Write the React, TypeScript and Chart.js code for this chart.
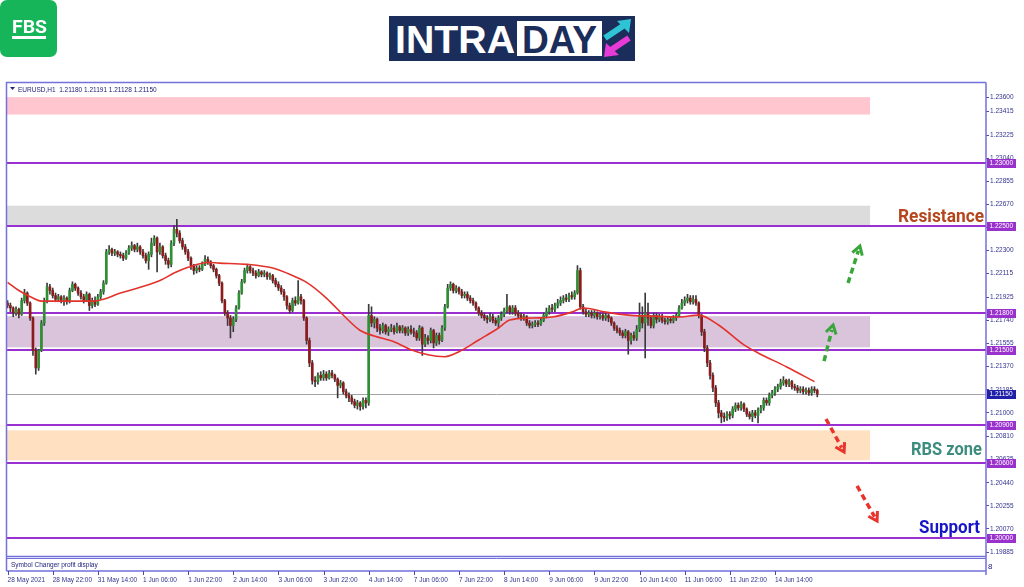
import React, { useEffect, useRef } from "react";
import { Chart, registerables } from "chart.js";

Chart.register(...registerables);

// ---------------- DATA ----------------
const firstOpen = 1.2188;
const closes = [
  1.2186,1.2184,1.2180,1.2183,1.2179,1.2190,1.2196,1.2188,1.2176,1.2150,1.2136,1.2150,1.2172,1.2190,1.2201,1.2198,
  1.2194,1.2191,1.2193,1.2190,1.2192,1.2189,1.2198,1.2203,1.2200,1.2196,1.2193,1.2190,1.2195,1.2186,1.2190,1.2187,
  1.2193,1.2197,1.2204,1.2229,1.2231,1.2228,1.2229,1.2227,1.2226,1.2224,1.2228,1.2232,1.2234,1.2231,1.2233,1.2229,
  1.2226,1.2222,1.2227,1.2236,1.2240,1.2229,1.2233,1.2226,1.2222,1.2219,1.2236,1.2247,1.2244,1.2238,1.2233,1.2229,
  1.2224,1.2218,1.2214,1.2216,1.2215,1.2219,1.2223,1.2221,1.2218,1.2215,1.2210,1.2204,1.2190,1.2180,1.2176,1.2170,
  1.2175,1.2184,1.2196,1.2205,1.2214,1.2217,1.2214,1.2212,1.2210,1.2213,1.2211,1.2212,1.2209,1.2210,1.2206,1.2203,
  1.2200,1.2197,1.2193,1.2186,1.2182,1.2190,1.2188,1.2193,1.2190,1.2176,1.2158,1.2140,1.2126,1.2125,1.2130,1.2128,
  1.2131,1.2128,1.2132,1.2130,1.2127,1.2122,1.2124,1.2117,1.2114,1.2112,1.2109,1.2106,1.2108,1.2105,1.2110,1.2108,
  1.2178,1.2172,1.2175,1.2168,1.2166,1.2170,1.2165,1.2167,1.2168,1.2165,1.2169,1.2166,1.2168,1.2164,1.2167,1.2165,
  1.2164,1.2160,1.2168,1.2155,1.2160,1.2158,1.2166,1.2156,1.2162,1.2158,1.2168,1.2185,1.2200,1.2203,1.2198,1.2200,
  1.2197,1.2194,1.2195,1.2192,1.2190,1.2188,1.2184,1.2180,1.2178,1.2176,1.2175,1.2177,1.2174,1.2172,1.2176,1.2179,
  1.2182,1.2185,1.2181,1.2184,1.2180,1.2178,1.2176,1.2177,1.2172,1.2170,1.2171,1.2172,1.2171,1.2174,1.2178,1.2181,
  1.2184,1.2183,1.2186,1.2188,1.2190,1.2192,1.2191,1.2194,1.2193,1.2196,1.2214,1.2185,1.2181,1.2179,1.2180,1.2178,
  1.2180,1.2177,1.2178,1.2176,1.2178,1.2176,1.2172,1.2168,1.2166,1.2164,1.2162,1.2165,1.2158,1.2162,1.2160,1.2167,
  1.2178,1.2172,1.2180,1.2176,1.2170,1.2178,1.2175,1.2177,1.2174,1.2173,1.2175,1.2174,1.2176,1.2178,1.2184,1.2188,
  1.2190,1.2192,1.2189,1.2191,1.2188,1.2178,1.2165,1.2152,1.2140,1.2130,1.2120,1.2108,1.2100,1.2097,1.2096,1.2099,
  1.2098,1.2103,1.2106,1.2104,1.2107,1.2103,1.2099,1.2097,1.2100,1.2098,1.2102,1.2104,1.2110,1.2108,1.2114,1.2116,
  1.2119,1.2121,1.2124,1.2126,1.2123,1.2125,1.2121,1.2120,1.2118,1.2119,1.2117,1.2118,1.2116,1.2119,1.2118,1.2115,
];
const highs = [
  1.2190,1.2188,1.2185,1.2185,1.2184,1.2192,1.2199,1.2197,1.2189,1.2177,1.2152,1.2151,1.2174,1.2192,1.2204,1.2203,
  1.2200,1.2196,1.2195,1.2194,1.2194,1.2193,1.2200,1.2205,1.2204,1.2201,1.2198,1.2195,1.2197,1.2196,1.2192,1.2193,
  1.2195,1.2199,1.2206,1.2231,1.2234,1.2232,1.2231,1.2230,1.2229,1.2228,1.2230,1.2234,1.2237,1.2235,1.2236,1.2234,
  1.2231,1.2228,1.2229,1.2240,1.2242,1.2241,1.2236,1.2234,1.2228,1.2224,1.2238,1.2250,1.2255,1.2246,1.2240,1.2235,
  1.2231,1.2225,1.2219,1.2218,1.2218,1.2221,1.2226,1.2225,1.2222,1.2219,1.2216,1.2211,1.2205,1.2191,1.2182,1.2178,
  1.2177,1.2186,1.2198,1.2207,1.2216,1.2219,1.2218,1.2216,1.2214,1.2215,1.2214,1.2214,1.2213,1.2212,1.2211,1.2208,
  1.2205,1.2202,1.2199,1.2194,1.2188,1.2192,1.2193,1.2206,1.2195,1.2191,1.2177,1.2160,1.2142,1.2129,1.2132,1.2133,
  1.2134,1.2133,1.2134,1.2134,1.2131,1.2128,1.2126,1.2125,1.2119,1.2116,1.2114,1.2111,1.2110,1.2109,1.2112,1.2112,
  1.2187,1.2185,1.2177,1.2176,1.2171,1.2172,1.2171,1.2169,1.2171,1.2170,1.2172,1.2170,1.2170,1.2169,1.2169,1.2170,
  1.2168,1.2166,1.2170,1.2169,1.2163,1.2162,1.2168,1.2167,1.2164,1.2164,1.2170,1.2187,1.2203,1.2205,1.2204,1.2202,
  1.2201,1.2199,1.2197,1.2197,1.2194,1.2192,1.2189,1.2185,1.2182,1.2180,1.2178,1.2180,1.2179,1.2176,1.2178,1.2181,
  1.2184,1.2195,1.2186,1.2186,1.2186,1.2182,1.2180,1.2179,1.2178,1.2174,1.2173,1.2174,1.2174,1.2176,1.2180,1.2184,
  1.2186,1.2187,1.2188,1.2191,1.2193,1.2194,1.2195,1.2196,1.2197,1.2198,1.2218,1.2216,1.2187,1.2183,1.2182,1.2182,
  1.2182,1.2181,1.2180,1.2180,1.2180,1.2179,1.2177,1.2173,1.2170,1.2168,1.2166,1.2167,1.2166,1.2164,1.2165,1.2170,
  1.2188,1.2185,1.2196,1.2188,1.2178,1.2180,1.2180,1.2179,1.2179,1.2176,1.2177,1.2177,1.2178,1.2180,1.2186,1.2191,
  1.2193,1.2195,1.2194,1.2194,1.2194,1.2189,1.2179,1.2167,1.2154,1.2142,1.2132,1.2122,1.2110,1.2102,1.2100,1.2101,
  1.2101,1.2105,1.2108,1.2108,1.2109,1.2108,1.2104,1.2101,1.2102,1.2102,1.2104,1.2106,1.2112,1.2112,1.2116,1.2118,
  1.2121,1.2123,1.2127,1.2129,1.2127,1.2127,1.2126,1.2123,1.2122,1.2121,1.2121,1.2120,1.2120,1.2121,1.2121,1.21191,
];
const lows = [
  1.2184,1.2181,1.2177,1.2178,1.2176,1.2178,1.2188,1.2186,1.2174,1.2146,1.2131,1.2134,1.2149,1.2170,1.2188,1.2195,
  1.2192,1.2189,1.2189,1.2188,1.2186,1.2187,1.2188,1.2197,1.2198,1.2194,1.2191,1.2188,1.2189,1.2182,1.2184,1.2185,
  1.2186,1.2191,1.2195,1.2203,1.2227,1.2226,1.2226,1.2225,1.2224,1.2222,1.2223,1.2227,1.2230,1.2229,1.2229,1.2227,
  1.2224,1.2220,1.2215,1.2225,1.2234,1.2213,1.2227,1.2224,1.2219,1.2216,1.2217,1.2234,1.2241,1.2236,1.2231,1.2227,
  1.2222,1.2215,1.2211,1.2212,1.2213,1.2214,1.2218,1.2219,1.2216,1.2213,1.2208,1.2202,1.2188,1.2178,1.2170,1.2160,
  1.2165,1.2173,1.2183,1.2195,1.2204,1.2212,1.2212,1.2210,1.2208,1.2209,1.2209,1.2209,1.2207,1.2207,1.2204,1.2201,
  1.2198,1.2195,1.2190,1.2183,1.2180,1.2181,1.2186,1.2187,1.2187,1.2174,1.2155,1.2137,1.2123,1.2121,1.2123,1.2126,
  1.2126,1.2126,1.2127,1.2128,1.2125,1.2112,1.2120,1.2115,1.2112,1.2109,1.2107,1.2104,1.2103,1.2102,1.2103,1.2104,
  1.2106,1.2169,1.2168,1.2165,1.2163,1.2164,1.2163,1.2162,1.2165,1.2163,1.2164,1.2164,1.2164,1.2162,1.2162,1.2163,
  1.2161,1.2158,1.2158,1.2146,1.2153,1.2155,1.2156,1.2152,1.2154,1.2155,1.2157,1.2166,1.2184,1.2198,1.2196,1.2196,
  1.2195,1.2192,1.2192,1.2190,1.2188,1.2186,1.2182,1.2178,1.2176,1.2174,1.2172,1.2173,1.2172,1.2170,1.2168,1.2174,
  1.2177,1.2180,1.2179,1.2179,1.2178,1.2176,1.2174,1.2174,1.2170,1.2168,1.2168,1.2169,1.2169,1.2170,1.2173,1.2176,
  1.2179,1.2181,1.2181,1.2184,1.2186,1.2188,1.2189,1.2189,1.2191,1.2191,1.2195,1.2183,1.2179,1.2177,1.2177,1.2176,
  1.2176,1.2175,1.2175,1.2174,1.2174,1.2173,1.2170,1.2166,1.2164,1.2162,1.2160,1.2160,1.2147,1.2155,1.2158,1.2158,
  1.2165,1.2168,1.2144,1.2170,1.2168,1.2168,1.2172,1.2173,1.2172,1.2171,1.2171,1.2172,1.2172,1.2174,1.2177,1.2183,
  1.2186,1.2188,1.2187,1.2187,1.2186,1.2176,1.2162,1.2149,1.2137,1.2127,1.2117,1.2105,1.2096,1.2092,1.2093,1.2094,
  1.2095,1.2096,1.2101,1.2102,1.2102,1.2101,1.2097,1.2095,1.2093,1.2096,1.2092,1.2100,1.2102,1.2106,1.2106,1.2112,
  1.2114,1.2117,1.2119,1.2122,1.2121,1.2121,1.2119,1.2118,1.2116,1.2116,1.2115,1.2115,1.2114,1.2114,1.2116,1.21128,
];
const opens = closes.map((c, i) => (i === 0 ? firstOpen : closes[i - 1]));

// moving average
const maBars = [0,4,9,12,21,30,34,40,47,54,59,64,71,75,85,94,101,106,113,120,125,130,137,143,149,155,160,167,174,178,186,193,200,204,212,220,228,238,245,252,261,266,276,286];
const maValues = [1.22046,1.2198,1.2192,1.21895,1.21895,1.21895,1.2191,1.2196,1.22006,1.2206,1.2212,1.22166,1.22205,1.2220,1.2219,1.2216,1.2210,1.22046,1.2192,1.2176,1.2166,1.21616,1.2157,1.21505,1.21465,1.2145,1.2149,1.21584,1.2168,1.21744,1.2176,1.21768,1.21807,1.2184,1.21807,1.21783,1.21775,1.21768,1.21783,1.21704,1.21545,1.2148,1.2137,1.2125];

const xTickBars = [0,16,32,48,64,80,96,112,128,144,160,176,192,208,224,240,256,272];
const xTickLabels = ["28 May 2021","28 May 22:00","31 May 14:00","1 Jun 06:00","1 Jun 22:00","2 Jun 14:00","3 Jun 06:00","3 Jun 22:00","4 Jun 14:00","7 Jun 06:00","7 Jun 22:00","8 Jun 14:00","9 Jun 06:00","9 Jun 22:00","10 Jun 14:00","11 Jun 06:00","11 Jun 22:00","14 Jun 14:00"];
const yTickValues = [1.2353,1.23415,1.23225,1.2304,1.22855,1.2267,1.22485,1.223,1.22115,1.21925,1.2174,1.21555,1.2137,1.21185,1.21,1.2081,1.20625,1.2044,1.20255,1.2007,1.19885];
const yTickLabels = ["1.23600","1.23415","1.23225","1.23040","1.22855","1.22670","1.22485","1.22300","1.22115","1.21925","1.21740","1.21555","1.21370","1.21185","1.21000","1.20810","1.20625","1.20440","1.20255","1.20070","1.19885"];
const levelValues = [1.23, 1.225, 1.218, 1.215, 1.209, 1.206, 1.2];
const levelLabels = ["1.23000","1.22500","1.21800","1.21500","1.20900","1.20600","1.20000"];
const lastPrice = 1.2115;
const lastPriceLabel = "1.21150";
const zoneHigh = [1.2353, 1.2266, 1.21775, 1.2086];
const zoneLow = [1.2339, 1.225, 1.21525, 1.2062];
const zoneEndBar = 305.7;
const noteTexts = ["Resistance", "RBS zone", "Support"];
const notePrices = [1.2253, 1.20663, 1.20038];
const arrowFromBar = [297.9, 289.4, 290.1, 301.1];
const arrowFromPrice = [1.2204, 1.21415, 1.20951, 1.20414];
const arrowToBar = [302.1, 292.6, 296.5, 308.2];
const arrowToPrice = [1.22337, 1.21704, 1.20686, 1.20133];
const yMin = 1.19853;
const yMax = 1.23643;
const xMin = -0.2;
const xMax = 346.8;

// ---------------- STYLE ----------------
const AXIS_FONT = "'Liberation Sans', Arial, sans-serif";
const AXIS_COLOR = "#33338f";
const FRAME = "#7470dc";
const LEVEL = "#9a30d0";
const BULL = "#2f8f35";
const BEAR = "#8c1c1c";
const WICK = "#3a3a3a";
const zoneColors = ["#ffc6d0", "#dcdcdc", "#dac4dc", "#ffe1c2"];
const noteColors = ["#b5451c", "#3d8d7e", "#1616c8"];
const noteWidths = [86, 71, 61];
const noteRightInset = [2, 4, 6];
const arrowColors = ["#3aa53a", "#3aa53a", "#e8342c", "#e8342c"];

function drawArrow(ctx: CanvasRenderingContext2D, x0: number, y0: number, x1: number, y1: number, color: string) {
  const ang = Math.atan2(y1 - y0, x1 - x0);
  ctx.save();
  ctx.strokeStyle = color;
  ctx.lineWidth = 3.5;
  ctx.setLineDash([6, 4]);
  ctx.beginPath();
  ctx.moveTo(x0, y0);
  ctx.lineTo(x1 - Math.cos(ang) * 5, y1 - Math.sin(ang) * 5);
  ctx.stroke();
  ctx.setLineDash([]);
  ctx.lineWidth = 3;
  const h = 10;
  ctx.beginPath();
  ctx.moveTo(x1 - h * Math.cos(ang - 0.55), y1 - h * Math.sin(ang - 0.55));
  ctx.lineTo(x1, y1);
  ctx.lineTo(x1 - h * Math.cos(ang + 0.55), y1 - h * Math.sin(ang + 0.55));
  ctx.stroke();
  ctx.restore();
}

const mtPlugin = {
  id: "mt4",
  beforeDatasetsDraw(chart: any) {
    const { ctx, chartArea: ca, scales } = chart;
    const xs = scales.x;
    const ys = scales.y;
    ctx.save();
    ctx.beginPath();
    ctx.rect(ca.left, ca.top, ca.right - ca.left, ca.bottom - ca.top);
    ctx.clip();
    const xr = xs.getPixelForValue(zoneEndBar);
    zoneHigh.forEach((hv, i) => {
      const y1 = ys.getPixelForValue(hv);
      const y2 = ys.getPixelForValue(zoneLow[i]);
      ctx.fillStyle = zoneColors[i];
      ctx.fillRect(ca.left, y1, xr - ca.left, y2 - y1);
    });
    const yp = Math.round(ys.getPixelForValue(lastPrice)) + 0.5;
    ctx.strokeStyle = "#a4a4a4";
    ctx.lineWidth = 1;
    ctx.beginPath();
    ctx.moveTo(ca.left, yp);
    ctx.lineTo(ca.right, yp);
    ctx.stroke();
    ctx.strokeStyle = LEVEL;
    ctx.lineWidth = 2;
    levelValues.forEach((v) => {
      const y = Math.round(ys.getPixelForValue(v));
      ctx.beginPath();
      ctx.moveTo(ca.left, y);
      ctx.lineTo(ca.right, y);
      ctx.stroke();
    });
    ctx.restore();
  },
  afterDraw(chart: any) {
    const { ctx, chartArea: ca, scales } = chart;
    const xs = scales.x;
    const ys = scales.y;
    ctx.save();
    // frames
    ctx.strokeStyle = FRAME;
    ctx.lineWidth = 1.5;
    ctx.beginPath();
    ctx.moveTo(ca.left - 0.5, ca.bottom + 15);
    ctx.lineTo(ca.left - 0.5, ca.top - 0.5);
    ctx.lineTo(ca.right, ca.top - 0.5);
    ctx.moveTo(ca.right, ca.top - 0.5);
    ctx.lineTo(ca.right, ca.bottom + 19);
    ctx.moveTo(ca.left - 0.5, ca.bottom + 0.5);
    ctx.lineTo(ca.right, ca.bottom + 0.5);
    ctx.moveTo(ca.left - 0.5, ca.bottom + 15);
    ctx.lineTo(ca.right, ca.bottom + 15);
    ctx.stroke();
    ctx.lineWidth = 1;
    ctx.beginPath();
    ctx.moveTo(ca.left, ca.bottom + 2.5);
    ctx.lineTo(ca.right, ca.bottom + 2.5);
    ctx.stroke();

    // header
    ctx.fillStyle = "#22227a";
    ctx.beginPath();
    ctx.moveTo(ca.left + 3, ca.top + 4);
    ctx.lineTo(ca.left + 8, ca.top + 4);
    ctx.lineTo(ca.left + 5.5, ca.top + 7);
    ctx.closePath();
    ctx.fill();
    ctx.font = `6.5px ${AXIS_FONT}`;
    ctx.textAlign = "left";
    ctx.textBaseline = "alphabetic";
    const n = closes.length - 1;
    const hdr = `EURUSD,H1  ${opens[n].toFixed(5)} ${highs[n].toFixed(5)} ${lows[n].toFixed(5)} ${closes[n].toFixed(5)}`;
    ctx.fillText(hdr, ca.left + 11, ca.top + 9);
    ctx.fillText("Symbol Changer profit display", ca.left + 4, ca.bottom + 11);
    ctx.font = `8px ${AXIS_FONT}`;
    ctx.fillText("8", ca.right + 2, ca.bottom + 13);

    // x tick marks
    ctx.strokeStyle = "#4a4aa8";
    ctx.lineWidth = 1;
    xTickBars.forEach((b) => {
      const x = Math.round(xs.getPixelForValue(b)) + 0.5;
      ctx.beginPath();
      ctx.moveTo(x, ca.bottom + 15);
      ctx.lineTo(x, ca.bottom + 19);
      ctx.stroke();
    });

    // axis highlight boxes
    const box = (v: number, text: string, color: string) => {
      const y = Math.round(ys.getPixelForValue(v));
      ctx.fillStyle = color;
      ctx.fillRect(ca.right + 1, y - 4, 29, 9);
      ctx.fillStyle = "#ffffff";
      ctx.font = `6.5px ${AXIS_FONT}`;
      ctx.textAlign = "left";
      ctx.textBaseline = "middle";
      ctx.fillText(text, ca.right + 3.5, y + 0.5);
    };
    levelValues.forEach((v, i) => box(v, levelLabels[i], "#9932cc"));
    box(lastPrice, lastPriceLabel, "#2020a8");

    // notes
    noteTexts.forEach((t, i) => {
      ctx.font = "bold 18px Roboto, 'Open Sans', sans-serif";
      const w = ctx.measureText(t).width;
      const sx = noteWidths[i] / w;
      ctx.save();
      ctx.translate(ca.right - noteRightInset[i], ys.getPixelForValue(notePrices[i]));
      ctx.scale(sx, 1);
      ctx.fillStyle = noteColors[i];
      ctx.textAlign = "right";
      ctx.textBaseline = "alphabetic";
      ctx.fillText(t, 0, 0);
      ctx.restore();
    });

    // arrows
    arrowFromBar.forEach((b, i) => {
      drawArrow(
        ctx,
        xs.getPixelForValue(b),
        ys.getPixelForValue(arrowFromPrice[i]),
        xs.getPixelForValue(arrowToBar[i]),
        ys.getPixelForValue(arrowToPrice[i]),
        arrowColors[i]
      );
    });
    ctx.restore();
  },
};

function MTChart() {
  const ref = useRef<HTMLCanvasElement | null>(null);
  useEffect(() => {
    if (!ref.current) return;
    const chart = new Chart(ref.current, {
      type: "bar",
      data: {
        datasets: [
          {
            type: "line",
            label: "MA",
            data: maBars.map((b, i) => ({ x: b, y: maValues[i] })),
            borderColor: "#e3322b",
            borderWidth: 1.6,
            pointRadius: 0,
            cubicInterpolationMode: "monotone",
            order: 0,
          } as any,
          {
            label: "bodies",
            data: opens.map((o, i) => ({ x: i, y: [o, closes[i]] })),
            backgroundColor: closes.map((c, i) => (c >= opens[i] ? BULL : BEAR)),
            borderWidth: 0,
            barThickness: 2,
            grouped: false,
            minBarLength: 1,
            order: 1,
          } as any,
          {
            label: "wicks",
            data: lows.map((l, i) => ({ x: i, y: [l, highs[i]] })),
            backgroundColor: WICK,
            borderWidth: 0,
            barThickness: 1,
            grouped: false,
            order: 2,
          } as any,
        ],
      },
      options: {
        responsive: false,
        animation: false,
        events: [],
        layout: { padding: { left: 7, top: 83, right: 0, bottom: 0 } },
        plugins: { legend: { display: false }, tooltip: { enabled: false } },
        scales: {
          x: {
            type: "linear",
            min: xMin,
            max: xMax,
            offset: false,
            grid: { display: false, drawTicks: true, tickLength: 20, offset: false },
            border: { display: false },
            afterBuildTicks: (s: any) => {
              s.ticks = xTickBars.map((v) => ({ value: v }));
            },
            afterFit: (s: any) => {
              s.height = 31;
              s.paddingLeft = 0;
              s.paddingRight = 0;
            },
            ticks: {
              autoSkip: false,
              maxRotation: 0,
              minRotation: 0,
              align: "start",
              padding: 0,
              color: AXIS_COLOR,
              font: { family: AXIS_FONT, size: 6.5 },
              callback: (_v: any, i: number) => xTickLabels[i],
            },
          },
          y: {
            type: "linear",
            position: "right",
            min: yMin,
            max: yMax,
            bounds: "data",
            beginAtZero: false,
            grid: { drawOnChartArea: false, drawTicks: true, tickLength: 3, color: "#4a4aa8" },
            border: { display: false },
            afterBuildTicks: (s: any) => {
              s.ticks = yTickValues.map((v) => ({ value: v }));
            },
            afterFit: (s: any) => {
              s.width = 38;
              s.paddingTop = 0;
              s.paddingBottom = 0;
            },
            ticks: {
              autoSkip: false,
              padding: 1,
              color: AXIS_COLOR,
              font: { family: AXIS_FONT, size: 6.5 },
              callback: (_v: any, i: number) => yTickLabels[i],
            },
          },
        },
      } as any,
      plugins: [mtPlugin as any],
    });
    return () => chart.destroy();
  }, []);
  return <canvas ref={ref} width={1024} height={587} style={{ position: "absolute", left: 0, top: 0 }} />;
}

export default function App() {
  return (
    <div style={{ position: "absolute", left: 0, top: 0, width: 1024, height: 587, background: "#ffffff", overflow: "hidden" }}>
      <MTChart />
      <svg style={{ position: "absolute", left: 0, top: 0 }} width={58} height={58}>
        <rect x={0} y={0} width={57} height={57} rx={7} fill="#17b55a" />
        <text x={12} y={33} fill="#ffffff" fontFamily="Roboto, 'Liberation Sans', sans-serif" fontWeight={700} fontSize={19} textLength={35} lengthAdjust="spacingAndGlyphs">FBS</text>
        <rect x={12} y={36} width={34} height={3} fill="#ffffff" />
      </svg>
      <svg style={{ position: "absolute", left: 389, top: 16 }} width={246} height={45}>
        <rect x={0} y={0} width={246} height={45} fill="#1b2d5a" />
        <text x={6} y={37} fill="#ffffff" fontFamily="'Liberation Sans', Arial, sans-serif" fontWeight={700} fontSize={39} textLength={120} lengthAdjust="spacingAndGlyphs">INTRA</text>
        <rect x={128} y={5} width={85} height={35} fill="#ffffff" />
        <text x={133} y={37} fill="#1b2d5a" fontFamily="'Liberation Sans', Arial, sans-serif" fontWeight={700} fontSize={39} textLength={75} lengthAdjust="spacingAndGlyphs">DAY</text>
        <line x1={240} y1={22} x2={222} y2={34} stroke="#e83ad6" strokeWidth={6} />
        <polygon points="215,41 217,27 230,39" fill="#e83ad6" />
        <line x1={216} y1={22} x2={234} y2={10} stroke="#2ec3d5" strokeWidth={6} />
        <polygon points="242,3 228,5 240,17" fill="#2ec3d5" />
      </svg>
    </div>
  );
}
